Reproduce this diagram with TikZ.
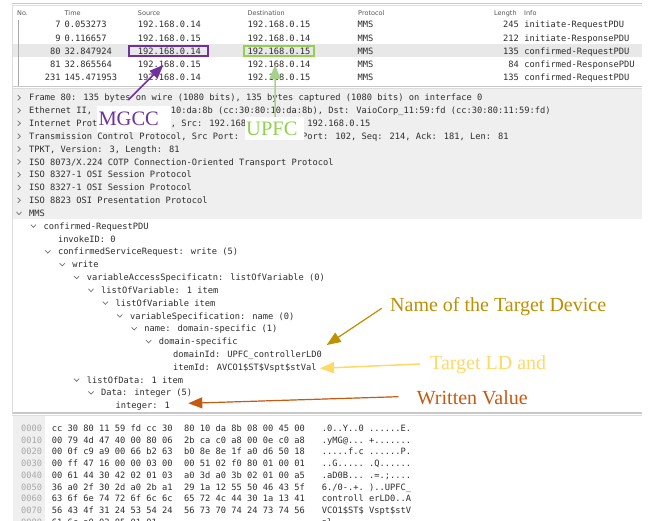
\documentclass[tikz,border=0pt]{standalone}
\usepackage{fontspec}
\setmainfont{Liberation Serif}
\newfontfamily\wsmono{DejaVu Sans Mono}
\newfontfamily\wssans{DejaVu Sans}
\usetikzlibrary{arrows.meta}

\definecolor{wstext}{HTML}{2E2E2E}
\definecolor{wspane}{HTML}{EFEFEF}
\definecolor{wssel}{HTML}{E8E8E8}
\definecolor{wsrule}{HTML}{C8C8C8}
\definecolor{wsrulelight}{HTML}{DDDDDD}
\definecolor{wsoff}{HTML}{A8A8A8}
\definecolor{wshdr}{HTML}{555555}
\definecolor{wschev}{HTML}{707070}
\definecolor{mgccpurple}{HTML}{7030A0}
\definecolor{upfcgreen}{HTML}{92D050}
\definecolor{upfcarrow}{HTML}{A9D18E}
\definecolor{devgold}{HTML}{BF9000}
\definecolor{ldgold}{HTML}{FFD966}
\definecolor{valorange}{HTML}{C55A11}

% one line of the packet-details tree: name, row, level, text
\newcommand{\treerow}[4]{%
  \pgfmathsetmacro{\wsY}{100.9+12.83*#2}%
  \pgfmathsetmacro{\wsX}{29+14.4*#3}%
  \node[mono] (#1) at (\wsX,\wsY) {#4};}
% expanded / collapsed markers in front of a tree line: row, level
\newcommand{\openmark}[2]{%
  \pgfmathsetmacro{\wsY}{97.7+12.83*#1}%
  \pgfmathsetmacro{\wsX}{19+14.4*#2}%
  \draw[chev] (\wsX-2.6,\wsY-1.3) -- (\wsX,\wsY+1.4) -- (\wsX+2.6,\wsY-1.3);}
\newcommand{\shutmark}[2]{%
  \pgfmathsetmacro{\wsY}{97.7+12.83*#1}%
  \pgfmathsetmacro{\wsX}{19+14.4*#2}%
  \draw[chev] (\wsX-1.3,\wsY-2.6) -- (\wsX+1.4,\wsY) -- (\wsX-1.3,\wsY+2.6);}
% one line of the hex dump: row, offset, two hex groups, two ascii groups
\newcommand{\hexrow}[6]{%
  \pgfmathsetmacro{\wsY}{431.5+11.7*#1}%
  \node[mono,text=wsoff] (off#1) at (21,\wsY) {#2};
  \node[mono] (hexa#1) at (51.7,\wsY) {#3};
  \node[mono] (hexb#1) at (184,\wsY) {#4};
  \node[mono] (asca#1) at (321.7,\wsY) {#5};
  \node[mono] (ascb#1) at (368.95,\wsY) {#6};}

\begin{document}
\begin{tikzpicture}[x=1pt,y=-1pt,
  mono/.style={font=\wsmono\fontsize{8.72pt}{10pt}\selectfont,text=wstext,inner sep=0pt,anchor=base west},
  hdr/.style={font=\wssans\fontsize{6.5pt}{8pt}\selectfont,text=wshdr,inner sep=0pt,anchor=base west},
  chev/.style={draw=wschev,line width=0.7pt},
  rule/.style={draw=wsrule,line width=1.2pt},
  rulelight/.style={draw=wsrulelight,line width=1pt},
  hlbox/.style={line width=2pt},
  tag/.style={fill=white,inner sep=0pt,anchor=north west,font=\fontsize{20.5pt}{22pt}\selectfont},
  note/.style={inner sep=0pt,anchor=base west,font=\fontsize{20pt}{22pt}\selectfont},
  pointer/.style={-{Triangle[length=14pt,width=11pt]}}]

\useasboundingbox (0,0) rectangle (650,521);
\clip (0,0) rectangle (650,521);
\fill[white] (0,0) rectangle (650,521);

% ---------- pane backgrounds and rules ----------
\fill[wssel] (13,44.5) rectangle (642,57.5);
\fill[wspane] (13,89.5) rectangle (642,219);
\fill[wspane] (13,416) rectangle (45,521);
\draw[rule] (12,3.2) -- (642,3.2);
\draw[rulelight] (12,5.2) -- (642,5.2);
\draw[rule] (12,86.6) -- (642,86.6);
\draw[rulelight] (12,88.6) -- (642,88.6);
\draw[rule] (12,413) -- (642,413);
\draw[rulelight] (12,415) -- (642,415);
\draw[draw=wsrulelight,line width=0.8pt] (12.8,5) -- (12.8,413);
\draw[draw=wsoff,line width=0.5pt] (18.3,20) -- (18.3,86);

% ---------- packet list ----------
\node[hdr] (hNo) at (17,15.1) {No.};
\node[hdr] (hTime) at (64.5,15.1) {Time};
\node[hdr] (hSrc) at (137.7,15.1) {Source};
\node[hdr] (hDst) at (247.3,15.1) {Destination};
\node[hdr] (hProto) at (358,15.1) {Protocol};
\node[hdr] (hLen) at (494,15.1) {Length};
\node[hdr] (hInfo) at (524,15.1) {Info};

\foreach \k/\no/\tm/\src/\dst/\len/\info in {
  0/7/0.053273/192.168.0.14/192.168.0.15/245/initiate-RequestPDU,
  1/9/0.116657/192.168.0.15/192.168.0.14/212/initiate-ResponsePDU,
  2/80/32.847924/192.168.0.14/192.168.0.15/135/confirmed-RequestPDU,
  3/81/32.865564/192.168.0.15/192.168.0.14/84/confirmed-ResponsePDU,
  4/231/145.471953/192.168.0.14/192.168.0.15/135/confirmed-RequestPDU}{
  \pgfmathsetmacro{\wsY}{28+13.1*\k}
  \node[mono,anchor=base east] (no\k) at (60.7,\wsY) {\no};
  \node[mono] (tm\k) at (64.5,\wsY) {\tm};
  \node[mono] (src\k) at (137.7,\wsY) {\src};
  \node[mono] (dst\k) at (247.3,\wsY) {\dst};
  \node[mono] (proto\k) at (357.5,\wsY) {MMS};
  \node[mono,anchor=base east] (len\k) at (519,\wsY) {\len};
  \node[mono] (info\k) at (524.2,\wsY) {\info};
}
\draw[hlbox,draw=mgccpurple] (128.7,46) rectangle (208,56.3);
\draw[hlbox,draw=upfcgreen] (244.3,46) rectangle (314,56.3);

% ---------- packet details ----------
\treerow{dFrame}{0}{0}{Frame 80: 135 bytes on wire (1080 bits), 135 bytes captured (1080 bits) on interface 0}
\treerow{dEth}{1}{0}{Ethernet II,}
\node[mono] (dEthB) at (170.75,113.73) {10:da:8b (cc:30:80:10:da:8b), Dst: VaioCorp\_11:59:fd (cc:30:80:11:59:fd)};
\treerow{dIp}{2}{0}{Internet Prot}
\node[mono] (dIpB) at (170.75,126.56) {, Src: 192.168};
\node[mono] (dIpC) at (307.25,126.56) {192.168.0.15};
\treerow{dTcp}{3}{0}{Transmission Control Protocol, Src Port:}
\node[mono] (dTcpB) at (302,139.39) {Port: 102, Seq: 214, Ack: 181, Len: 81};
\treerow{dTpkt}{4}{0}{TPKT, Version: 3, Length: 81}
\treerow{dCotp}{5}{0}{ISO 8073/X.224 COTP Connection-Oriented Transport Protocol}
\treerow{dSesA}{6}{0}{ISO 8327-1 OSI Session Protocol}
\treerow{dSesB}{7}{0}{ISO 8327-1 OSI Session Protocol}
\treerow{dPres}{8}{0}{ISO 8823 OSI Presentation Protocol}
\foreach \r in {0,...,8}{\shutmark{\r}{0}}

\treerow{dMms}{9}{0}{MMS}
\treerow{dReq}{10}{1}{confirmed-RequestPDU}
\treerow{dInv}{11}{2}{invokeID: 0}
\treerow{dCsr}{12}{2}{confirmedServiceRequest: write (5)}
\treerow{dWrite}{13}{3}{write}
\treerow{dVas}{14}{4}{variableAccessSpecificatn: listOfVariable (0)}
\treerow{dLov}{15}{5}{listOfVariable: 1 item}
\treerow{dLovItem}{16}{6}{listOfVariable item}
\treerow{dVarSpec}{17}{7}{variableSpecification: name (0)}
\treerow{dName}{18}{8}{name: domain-specific (1)}
\treerow{dDomSpec}{19}{9}{domain-specific}
\treerow{dDomId}{20}{10}{domainId: UPFC\_controllerLD0}
\treerow{dItemId}{21}{10}{itemId: AVCO1\$ST\$Vspt\$stVal}
\treerow{dLod}{22}{4}{listOfData: 1 item}
\treerow{dData}{23}{5}{Data: integer (5)}
\treerow{dInt}{24}{6}{integer: 1}
\foreach \r/\l in {9/0,10/1,12/2,13/3,14/4,15/5,16/6,17/7,18/8,19/9,22/4,23/5}{\openmark{\r}{\l}}

% ---------- hex dump ----------
\hexrow{0}{0000}{cc 30 80 11 59 fd cc 30}{80 10 da 8b 08 00 45 00}{.0..Y..0}{......E.}
\hexrow{1}{0010}{00 79 4d 47 40 00 80 06}{2b ca c0 a8 00 0e c0 a8}{.yMG@...}{+.......}
\hexrow{2}{0020}{00 0f c9 a9 00 66 b2 63}{b0 8e 8e 1f a0 d6 50 18}{.....f.c}{......P.}
\hexrow{3}{0030}{00 ff 47 16 00 00 03 00}{00 51 02 f0 80 01 00 01}{..G.....}{.Q......}
\hexrow{4}{0040}{00 61 44 30 42 02 01 03}{a0 3d a0 3b 02 01 00 a5}{.aD0B...}{.=.;....}
\hexrow{5}{0050}{36 a0 2f 30 2d a0 2b a1}{29 1a 12 55 50 46 43 5f}{6./0-.+.}{)..UPFC\_}
\hexrow{6}{0060}{63 6f 6e 74 72 6f 6c 6c}{65 72 4c 44 30 1a 13 41}{controll}{erLD0..A}
\hexrow{7}{0070}{56 43 4f 31 24 53 54 24}{56 73 70 74 24 73 74 56}{VCO1\$ST\$}{Vspt\$stV}
\hexrow{8}{0080}{61 6c a0 03 85 01 01}{}{al.....}{}

% ---------- annotations ----------
\node[tag,text=mgccpurple,minimum width=74.5pt,minimum height=26.5pt] (mgcc) at (96.5,105.5)
  {\makebox[74.5pt][l]{\hspace{1.8pt}MGCC}};
\node[tag,text=upfcgreen,minimum width=58.3pt,minimum height=23.3pt] (upfc) at (245,116.8)
  {\makebox[58.3pt][l]{\hspace{1pt}UPFC}};

\node[note,text=devgold] (devName) at (390,311) {Name of the Target Device};
\node[note,text=ldgold] (ldNote) at (430,369.3) {Target LD and};
\node[note,text=valorange] (valNote) at (416.7,404.5) {Written Value};

\coordinate (mgccTip) at (163.3,65);
\coordinate (upfcTip) at (275,65);
\coordinate (devTip) at (326.7,345);
\coordinate (ldTip) at (320,368.3);
\coordinate (valTip) at (188.3,403.3);

\draw[pointer,draw=mgccpurple,fill=mgccpurple,line width=1.5pt] ([shift={(31.8,-5.5)}]mgcc.north west) -- (mgccTip);
\draw[pointer,draw=upfcarrow,fill=upfcarrow,line width=1.5pt] ([xshift=0.8pt]upfc.north) -- (upfcTip);
\draw[pointer,draw=devgold,fill=devgold,line width=1.2pt] ([shift={(-8.3,-2.7)}]devName.base west) -- (devTip);
\draw[pointer,draw=ldgold,fill=ldgold,line width=1.5pt] ([shift={(-10,-5.3)}]ldNote.base west) -- (ldTip);
\draw[pointer,draw=valorange,fill=valorange,line width=1.2pt] ([shift={(-18.4,-7.8)}]valNote.base west) -- (valTip);
\end{tikzpicture}
\end{document}
